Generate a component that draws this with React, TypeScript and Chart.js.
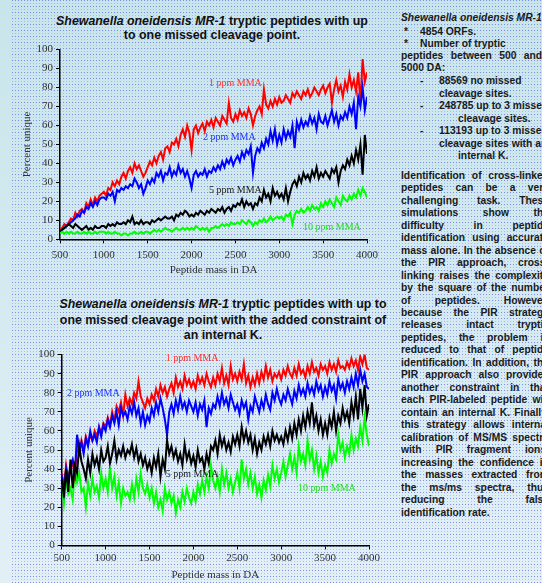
import React, { useEffect, useRef } from "react";
import { Chart, registerables } from "chart.js";
Chart.register(...registerables);

// ---------- data ----------
const MASS_START = 500;
const MASS_STEP = 25;
const X_MIN = 500;
const X_MAX = 4000;
const X_STEP = 500;
const Y_MIN = 0;
const Y_MAX = 100;
const Y_STEP = 10;

const SERIES_NAMES = ["1 ppm MMA", "2 ppm MMA", "5 ppm MMA", "10 ppm MMA"];
const SERIES_COLORS = ["#ff0000", "#0000ff", "#000000", "#00ff00"];
const LABEL_COLORS = ["#ff3030", "#2030ff", "#222222", "#20e020"];

// Chart 1: up to one missed cleavage
const c1_1ppm = [
  5, 6, 8, 7, 9, 11, 10, 14, 12, 15,
  16, 14, 19, 17, 21, 18, 22, 20, 23, 24,
  25, 23, 27, 26, 30, 28, 31, 29, 33, 35,
  32, 36, 38, 35, 40, 37, 39, 36, 33, 35,
  38, 41, 39, 43, 40, 44, 46, 42, 48, 49,
  46, 51, 50, 53, 49, 55, 58, 54, 60, 56,
  47, 58, 60, 56, 59, 61, 57, 62, 60, 63,
  59, 64, 62, 60, 65, 63, 61, 72, 64, 62,
  66, 63, 68, 65, 67, 64, 69, 66, 60, 65,
  68, 70, 66, 79, 71, 69, 73, 70, 74, 71,
  75, 72, 73, 76, 74, 72, 77, 75, 78, 76,
  74, 78, 76, 79, 75, 77, 80, 78, 76, 79,
  81, 77, 80, 82, 72, 79, 84, 78, 81, 75,
  83, 79, 87, 80, 84, 78, 88, 72, 95, 83,
  88,
];
const c1_2ppm = [
  4, 5, 6, 7, 8, 9, 10, 11, 13, 12,
  15, 14, 17, 16, 19, 17, 20, 18, 21, 22,
  22, 21, 24, 23, 25, 20, 26, 25, 27, 26,
  28, 27, 29, 28, 32, 30, 27, 29, 24, 27,
  31, 29, 32, 30, 35, 33, 36, 31, 35, 34,
  38, 33, 36, 34, 39, 35, 37, 33, 36, 32,
  27, 34, 36, 33, 35, 34, 37, 33, 36, 35,
  38, 36, 39, 37, 41, 38, 42, 40, 43, 39,
  42, 44, 41, 46, 43, 47, 45, 49, 35, 44,
  48, 46, 51, 48, 53, 50, 57, 52, 58, 50,
  55, 51, 58, 53, 57, 54, 60, 48, 62, 58,
  63, 59, 62, 60, 65, 61, 64, 58, 66, 62,
  61, 65, 60, 64, 68, 62, 66, 60, 65, 63,
  67, 64, 70, 66, 72, 58, 75, 70, 80, 68,
  75,
];
const c1_5ppm = [
  4, 5, 6, 7, 8, 7, 6, 8, 7, 6,
  5, 6, 7, 5, 6, 5, 7, 6, 6, 7,
  7, 6, 8, 7, 8, 7, 9, 8, 8, 9,
  8, 10, 9, 12, 8, 9, 8, 10, 8, 9,
  9, 8, 10, 9, 10, 11, 10, 11, 12, 11,
  11, 12, 10, 13, 12, 14, 13, 15, 14, 12,
  13, 12, 14, 13, 15, 14, 13, 15, 14, 16,
  15, 14, 16, 15, 17, 14, 16, 17, 15, 18,
  17, 19, 18, 21, 17, 20, 18, 19, 16, 19,
  18, 22, 20, 26, 22, 24, 20, 27, 23, 25,
  22, 24, 21, 27, 20, 25, 29, 31, 28, 33,
  30, 35, 32, 34, 31, 36, 33, 38, 32, 35,
  33, 36, 34, 32, 37, 35, 38, 30, 36, 39,
  37, 42, 39, 44, 40, 47, 42, 50, 34, 55,
  45,
];
const c1_10ppm = [
  3, 4, 3, 4, 3, 4, 3, 3, 4, 3,
  3, 4, 3, 4, 3, 3, 4, 3, 4, 4,
  4, 3, 4, 3, 3, 4, 3, 3, 2, 3,
  3, 2, 3, 3, 4, 3, 3, 4, 3, 4,
  4, 3, 4, 5, 4, 5, 4, 5, 6, 5,
  5, 4, 5, 6, 5, 5, 6, 5, 6, 5,
  6, 5, 7, 6, 5, 6, 5, 6, 4, 6,
  6, 7, 6, 7, 8, 7, 8, 7, 9, 8,
  8, 9, 8, 10, 9, 8, 10, 9, 7, 9,
  8, 10, 9, 11, 9, 10, 12, 10, 11, 12,
  11, 12, 10, 13, 12, 14, 8, 13, 15, 14,
  16, 14, 15, 17, 15, 18, 16, 17, 15, 19,
  17, 20, 18, 21, 19, 17, 22, 20, 18, 23,
  21, 20, 23, 21, 24, 22, 26, 23, 27, 25,
  22,
];

// Chart 2: with the added constraint of an internal K
const c2_1ppm = [
  38, 30, 42, 35, 40, 44, 36, 52, 48, 55,
  50, 57, 53, 58, 55, 60, 57, 62, 59, 64,
  62, 67, 63, 70, 65, 73, 70, 75, 68, 79,
  73, 77, 74, 80, 77, 86, 78, 75, 72, 77,
  74, 79, 76, 82, 78, 84, 80, 83, 78, 82,
  85, 80, 88, 83, 86, 82, 89, 84, 87, 83,
  86, 82, 89, 85, 88, 84, 90, 86, 83, 88,
  84, 90, 86, 93, 85, 89, 84, 94, 87, 90,
  86, 91, 87, 95, 85, 89, 83, 88, 84, 90,
  85, 91, 87, 94, 88, 92, 86, 90, 88, 91,
  87, 92, 89, 94, 90, 88, 93, 89, 95, 90,
  92, 88, 94, 90, 96, 91, 93, 89, 95, 92,
  94, 90, 96, 92, 95, 91, 97, 93, 94, 92,
  96, 93, 98, 94, 97, 92, 99, 95, 100, 93,
  92,
];
const c2_2ppm = [
  37, 28, 40, 33, 42, 45, 38, 58, 50, 54,
  48, 56, 52, 60, 55, 58, 54, 62, 57, 63,
  60, 66, 62, 68, 64, 70, 63, 72, 68, 70,
  66, 73, 69, 75, 68, 72, 64, 70, 63, 68,
  65, 72, 68, 75, 70, 77, 72, 66, 58, 70,
  74, 69, 76, 71, 78, 72, 75, 70, 76, 73,
  70, 75, 68, 74, 71, 76, 62, 72, 69, 74,
  72, 78, 73, 80, 74, 77, 72, 79, 75, 71,
  74, 69, 76, 72, 75, 66, 73, 70, 78, 74,
  70, 76, 72, 79, 74, 71, 80, 76, 82, 77,
  74, 79, 76, 82, 78, 74, 81, 77, 84, 79,
  82, 78, 85, 80, 83, 79, 86, 81, 84, 78,
  83, 79, 86, 81, 84, 77, 87, 82, 85, 80,
  86, 82, 88, 83, 90, 84, 92, 86, 90, 83,
  82,
];
const c2_5ppm = [
  35, 25, 40, 28, 45, 30, 42, 38, 52, 44,
  40, 35, 45, 38, 48, 42, 46, 40, 50, 44,
  46, 52, 43, 48, 55, 45, 50, 47, 52, 46,
  50, 48, 53, 46, 51, 44, 48, 42, 46, 40,
  44, 38, 46, 41, 48, 36, 45, 40, 55, 48,
  52, 46, 50, 44, 48, 42, 53, 45, 49, 43,
  47, 41, 50, 44, 46, 40, 48, 43, 52, 50,
  55, 48, 58, 52, 56, 50, 54, 49, 57, 53,
  58, 52, 62, 55, 60, 54, 58, 50, 56, 48,
  54, 50, 57, 53, 58, 52, 60, 55, 58, 54,
  57, 53, 60, 55, 62, 56, 64, 58, 66, 60,
  68, 62, 70, 64, 75, 63, 68, 60, 66, 58,
  64, 58, 67, 62, 70, 60, 68, 64, 72, 66,
  70, 64, 75, 68, 78, 66, 82, 72, 84, 68,
  74,
];
const c2_10ppm = [
  32, 22, 35, 27, 30, 24, 40, 33, 38, 28,
  30, 20, 33, 26, 35, 28, 31, 25, 38, 30,
  35, 28, 41, 30, 36, 26, 33, 22, 30, 26,
  28, 24, 32, 25, 35, 28, 38, 30, 27, 32,
  25, 30, 22, 28, 20, 24, 18, 30, 24, 28,
  22, 26, 17, 24, 20, 28, 23, 30, 25, 22,
  28, 23, 32, 27, 34, 28, 36, 30, 42, 34,
  30, 36, 28, 40, 32, 38, 30, 35, 28, 33,
  38, 30, 45, 35, 40, 32, 38, 30, 36, 27,
  32, 25, 34, 29, 37, 31, 42, 35, 40, 33,
  38, 44, 36, 42, 48, 40, 46, 38, 52, 44,
  48, 42, 55, 45, 50, 40, 47, 38, 44, 36,
  42, 38, 50, 43, 48, 45, 58, 50, 54, 46,
  52, 48, 58, 50, 56, 52, 62, 55, 67, 58,
  52,
];

// label anchor points (data coordinates)
const C1_LABEL_X = [2500, 2430, 2500, 3600];
const C1_LABEL_Y = [82, 53.5, 26, 6.4];
const C2_LABEL_X = [1985, 860, 1985, 3520];
const C2_LABEL_Y = [97.8, 79.7, 37, 30];

const X_TITLE = "Peptide mass in DA";
const Y_TITLE = "Percent unique";

// ---------- helpers ----------
const SERIF = '"Liberation Serif", "Times New Roman", serif';
const SANS = '"Liberation Sans", Arial, sans-serif';
const TICK_COLOR = "#333333";

const toPoints = (vals: number[]) =>
  vals.map((v, i) => ({ x: MASS_START + i * MASS_STEP, y: v }));

const seriesLabelPlugin = {
  id: "seriesLabels",
  afterDatasetsDraw(chart: any, _args: any, opts: any) {
    const { ctx, scales } = chart;
    const xs = scales.x;
    const ys = scales.y;
    ctx.save();
    ctx.font = `10px ${SERIF}`;
    ctx.textAlign = "center";
    ctx.textBaseline = "middle";
    (opts.labels || []).forEach((l: any) => {
      ctx.fillStyle = l.color;
      ctx.fillText(l.text, xs.getPixelForValue(l.x), ys.getPixelForValue(l.y));
    });
    ctx.restore();
  },
};

type ChartCfg = {
  series: number[][];
  drawOrder: number[]; // order value per series (0 = on top)
  labelX: number[];
  labelY: number[];
  yAxisWidth: number;
  xAxisHeight: number;
  xTickPad: number;
  yTitlePad: number;
};

function MassChart(props: { cfg: ChartCfg; width: number; height: number; style: React.CSSProperties }) {
  const ref = useRef<HTMLCanvasElement | null>(null);
  useEffect(() => {
    const c = props.cfg;
    const tickFont = { family: SERIF, size: 11 };
    const chart = new Chart(ref.current as HTMLCanvasElement, {
      type: "line",
      data: {
        datasets: c.series.map((s, i) => ({
          label: SERIES_NAMES[i],
          data: toPoints(s),
          borderColor: SERIES_COLORS[i],
          backgroundColor: SERIES_COLORS[i],
          borderWidth: 2,
          pointRadius: 0,
          tension: 0,
          fill: false,
          order: c.drawOrder[i],
        })),
      },
      options: {
        animation: false,
        responsive: false,
        maintainAspectRatio: false,
        layout: { padding: { top: 8, right: 23, left: 0, bottom: 0 } },
        plugins: {
          legend: { display: false },
          tooltip: { enabled: false },
          title: { display: false },
          seriesLabels: {
            labels: SERIES_NAMES.map((n, i) => ({
              text: n,
              x: c.labelX[i],
              y: c.labelY[i],
              color: LABEL_COLORS[i],
            })),
          },
        } as any,
        scales: {
          x: {
            type: "linear",
            min: X_MIN,
            max: X_MAX,
            ticks: {
              stepSize: X_STEP,
              font: tickFont,
              color: TICK_COLOR,
              padding: c.xTickPad,
              maxRotation: 0,
              autoSkip: false,
              callback: (v: any) => String(v),
            },
            grid: { drawOnChartArea: false, drawTicks: true, tickLength: 4, color: "#000", lineWidth: 1 },
            border: { display: true, color: "#000", width: 1.5 },
            title: {
              display: true,
              text: X_TITLE,
              font: { family: SERIF, size: 11 },
              color: TICK_COLOR,
              padding: { top: 0, bottom: 0 },
            },
            afterFit: (s: any) => {
              s.height = c.xAxisHeight;
            },
          },
          y: {
            type: "linear",
            min: Y_MIN,
            max: Y_MAX,
            ticks: {
              stepSize: Y_STEP,
              font: tickFont,
              color: TICK_COLOR,
              padding: 3,
              autoSkip: false,
            },
            grid: { drawOnChartArea: false, drawTicks: true, tickLength: 4, color: "#000", lineWidth: 1 },
            border: { display: true, color: "#000", width: 1.5 },
            title: {
              display: true,
              text: Y_TITLE,
              font: { family: SERIF, size: 11 },
              color: TICK_COLOR,
              padding: { top: c.yTitlePad, bottom: 0 },
            },
            afterFit: (s: any) => {
              s.width = c.yAxisWidth;
            },
          },
        },
      },
      plugins: [seriesLabelPlugin],
    } as any);
    return () => chart.destroy();
  }, []);
  return <canvas ref={ref} width={props.width} height={props.height} style={{ position: "absolute", ...props.style }} />;
}

const DOT_SVG =
  "data:image/svg+xml," +
  encodeURIComponent(
    "<svg xmlns='http://www.w3.org/2000/svg' width='3' height='6'>" +
      "<rect x='0' y='0' width='1' height='1' fill='rgb(84,100,228)' fill-opacity='0.7'/>" +
      "<rect x='0' y='3' width='1' height='1' fill='rgb(110,125,235)' fill-opacity='0.4'/>" +
      "</svg>"
  );

const PARA_LINES = [
  "Identification of cross-linked",
  "peptides can be a very",
  "challenging task. These",
  "simulations show the",
  "difficulty in peptide",
  "identification using accurate",
  "mass alone. In the absence of",
  "the PIR approach, cross-",
  "linking raises the complexity",
  "by the square of the number",
  "of peptides. However,",
  "because the PIR strategy",
  "releases intact tryptic",
  "peptides, the problem is",
  "reduced to that of peptide",
  "identification. In addition, the",
  "PIR approach also provides",
  "another constraint in that",
  "each PIR-labeled peptide will",
  "contain an internal K. Finally,",
  "this strategy allows internal",
  "calibration of MS/MS spectra",
  "with PIR fragment ions,",
  "increasing the confidence in",
  "the masses extracted from",
  "the ms/ms spectra, thus",
  "reducing the false",
  "identification rate.",
];

const TXT: React.CSSProperties = {
  position: "absolute",
  font: `bold 10.3px ${SANS}`,
  lineHeight: "12px",
  height: 12,
  color: "#1a1a1a",
  whiteSpace: "nowrap",
};

function Line(p: { x: number; y: number; w?: number; children: React.ReactNode; italic?: boolean }) {
  const st: React.CSSProperties = { ...TXT, left: p.x, top: p.y - 6 };
  if (p.w) {
    st.width = p.w;
    st.textAlign = "justify";
    (st as any).textAlignLast = "justify";
    st.whiteSpace = "normal";
    st.overflow = "hidden";
  }
  if (p.italic) st.fontStyle = "italic";
  return <div style={st}>{p.children}</div>;
}

export default function App() {
  const cfg1: ChartCfg = {
    series: [c1_1ppm, c1_2ppm, c1_5ppm, c1_10ppm],
    drawOrder: [3, 2, 1, 0],
    labelX: C1_LABEL_X,
    labelY: C1_LABEL_Y,
    yAxisWidth: 60,
    xAxisHeight: 37.7,
    xTickPad: 5,
    yTitlePad: 21,
  };
  const cfg2: ChartCfg = {
    series: [c2_1ppm, c2_2ppm, c2_5ppm, c2_10ppm],
    drawOrder: [2, 1, 0, 3],
    labelX: C2_LABEL_X,
    labelY: C2_LABEL_Y,
    yAxisWidth: 61.7,
    xAxisHeight: 36.6,
    xTickPad: 2,
    yTitlePad: 23,
  };
  const paraTop = 175.7;
  const paraStep = 12.48;
  return (
    <div
      style={{
        position: "fixed",
        left: 0,
        top: 0,
        width: 542,
        height: 583,
        overflow: "hidden",
        background: "linear-gradient(180deg, #c8e5eb 0%, #d4eaf0 50%, #e2f0f6 100%)",
      }}
    >
      <div
        style={{
          position: "absolute",
          left: 12,
          top: 0,
          right: 0,
          bottom: 0,
          backgroundImage: `url("${DOT_SVG}")`,
          backgroundRepeat: "repeat",
          imageRendering: "pixelated" as any,
        }}
      />
      {/* chart 1 title */}
      <div
        style={{
          position: "absolute",
          left: 12,
          width: 400,
          top: 15,
          textAlign: "center",
          font: `bold 12.4px ${SANS}`,
          lineHeight: "13.5px",
          color: "#111",
        }}
      >
        <i>Shewanella oneidensis MR-1</i> tryptic peptides with up
        <br />
        to one missed cleavage point.
      </div>
      <MassChart cfg={cfg1} width={390} height={237} style={{ left: 0, top: 40 }} />
      {/* chart 2 title */}
      <div
        style={{
          position: "absolute",
          left: 23,
          width: 400,
          top: 297,
          textAlign: "center",
          font: `bold 12.4px ${SANS}`,
          lineHeight: "15.5px",
          color: "#111",
        }}
      >
        <i>Shewanella oneidensis MR-1</i> tryptic peptides with up to
        <br />
        one missed cleavage point with the added constraint of
        <br />
        an internal K.
      </div>
      <MassChart cfg={cfg2} width={392} height={237} style={{ left: 0, top: 345 }} />

      {/* right text panel */}
      <Line x={401} y={18.3} italic>
        Shewanella oneidensis MR-1
      </Line>
      <Line x={404} y={32.3}>*</Line>
      <Line x={420} y={32.3}>4854 ORFs.</Line>
      <Line x={404} y={43.7}>*</Line>
      <Line x={420} y={43.7}>Number of tryptic</Line>
      <Line x={401} y={56.3} w={141}>
        peptides between 500 and
      </Line>
      <Line x={401} y={68}>5000 DA:</Line>
      <Line x={420} y={81.3}>-</Line>
      <Line x={439} y={81.3}>88569 no missed</Line>
      <Line x={439} y={93.7}>cleavage sites.</Line>
      <Line x={420} y={106.3}>-</Line>
      <Line x={439} y={106.3}>248785 up to 3 missed</Line>
      <Line x={458} y={118.7}>cleavage sites.</Line>
      <Line x={420} y={131}>-</Line>
      <Line x={439} y={131}>113193 up to 3 missed</Line>
      <Line x={439} y={144.3}>cleavage sites with an</Line>
      <Line x={458} y={156}>internal K.</Line>
      {PARA_LINES.map((t, i) => (
        <Line key={i} x={401} y={paraTop + i * paraStep} w={i === PARA_LINES.length - 1 ? undefined : 148}>
          {t}
        </Line>
      ))}
    </div>
  );
}
